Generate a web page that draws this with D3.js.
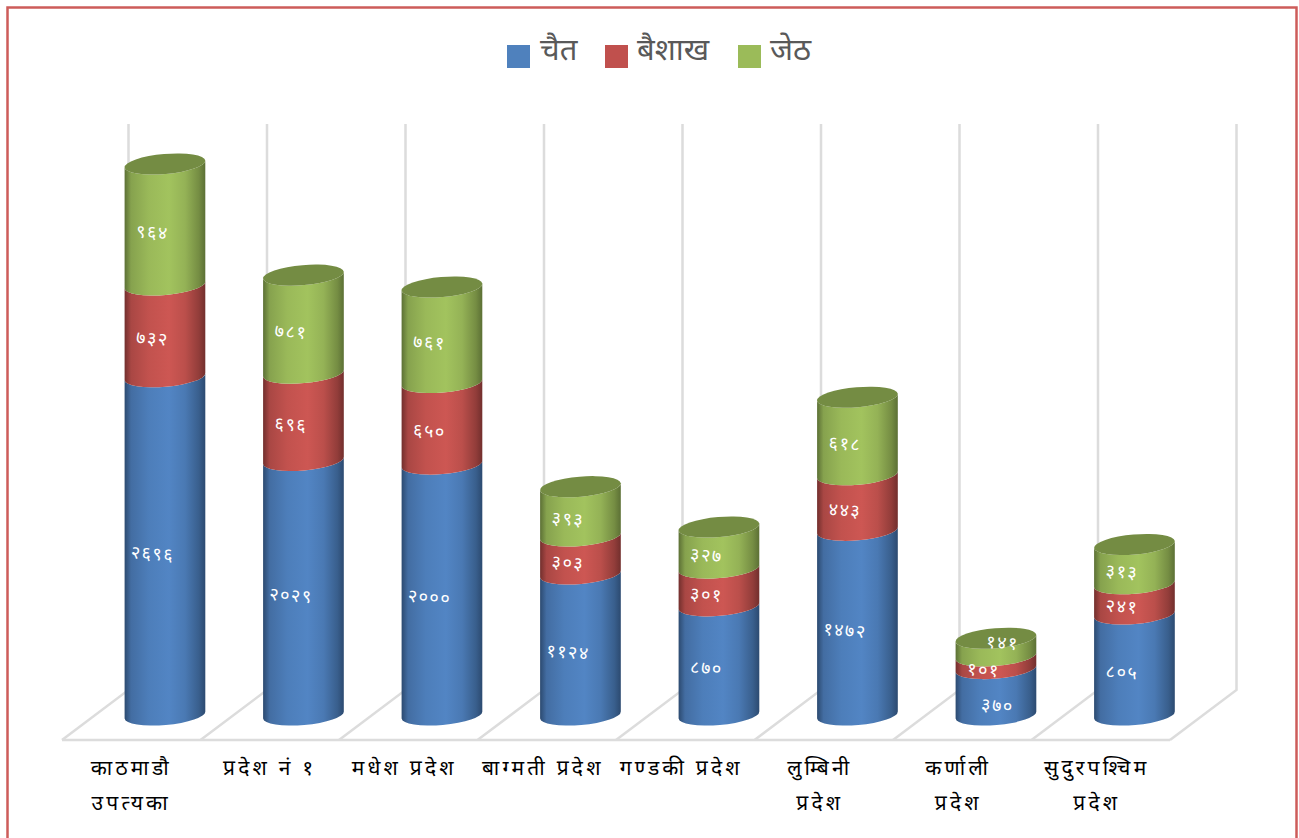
<!DOCTYPE html>
<html><head><meta charset="utf-8">
<script src="https://cdn.jsdelivr.net/npm/d3@7"></script>
<style>html,body{margin:0;padding:0;background:#fff;overflow:hidden}svg{display:block}text{font-family:"Noto Sans","Noto Sans CJK SC","DejaVu Sans",sans-serif}</style>
</head><body><div id="chart"></div>
<script>
const categories = [["काठमाडौ","उपत्यका"],["प्रदेश नं १"],["मधेश प्रदेश"],["बाग्मती प्रदेश"],["गण्डकी प्रदेश"],["लुम्बिनी","प्रदेश"],["कर्णाली","प्रदेश"],["सुदुरपश्चिम","प्रदेश"]];
const seriesNames = ["चैत","बैशाख","जेठ"];
const chait = [2696,2029,2000,1124,870,1472,370,805];
const baishakh = [732,696,650,303,301,443,101,241];
const jeth = [964,781,761,393,327,618,141,313];
const seriesValues = [chait,baishakh,jeth];
const legendFill = ["#4f81bd","#c0504d","#9bbb59"];
const mid = ["#5285c4","#cd5753","#a2c35e"];
const edge = ["#2c4a70","#722f2d","#5c7035"];
const cap = ["#3b618e","#903c3a","#748c43"];
const nep = n => String(n).replace(/\d/g,d=>"०१२३४५६७८९"[d]);

const W=1299,H=838;
const svg=d3.select("#chart").append("svg").attr("width",W).attr("height",H);
const defs=svg.append("defs");
mid.forEach((m,i)=>{
  const g=defs.append("linearGradient").attr("id","g"+i);
  [[0,edge[i]],[.08,d3.interpolateRgb(edge[i],m)(.6)],[.3,d3.interpolateRgb(edge[i],m)(.88)],[.55,m],[.75,d3.interpolateRgb(edge[i],m)(.8)],[.92,d3.interpolateRgb(edge[i],m)(.35)],[1,edge[i]]]
   .forEach(s=>g.append("stop").attr("offset",s[0]).attr("stop-color",s[1]));
});
svg.append("rect").attr("x",7.5).attr("y",7.5).attr("width",1289).attr("height",842).attr("fill","#fff").attr("stroke","#cd5c5a").attr("stroke-width",2.5);

const x=d3.scaleBand().domain(d3.range(categories.length)).range([62,1170]);
const dx=66.5, dy=-50;
const y=d3.scaleLinear().domain([0,4392]).range([725,174]);
const grid=svg.append("g").attr("stroke","#dcdcdc").attr("stroke-width",2.5).attr("fill","none");
const edges=d3.range(categories.length+1).map(i=>i<categories.length?x(i):x.range()[1]);
edges.forEach(e=>{
  grid.append("path").attr("d",`M${e},740L${e+dx},${740+dy}L${e+dx},124`);
});
grid.append("line").attr("x1",62).attr("x2",1170).attr("y1",740).attr("y2",740);

const rx=40.5, ry=10, tilt=-4.9;
const rad=tilt*Math.PI/180, ox=rx*Math.cos(rad), oy=rx*Math.sin(rad);
const plot=svg.append("g");
const cx=i=>x(i)+x.bandwidth()/2+33.7;
// small label shifts used where the source moves a label off the default spot
const labelNudge={"6-0":[14,6],"6-2":[19,-12]};
const axisLabelShift=[0,0,-4,-4,-4,-4,-4,-4];
categories.forEach((c,i)=>{
  let cum=0;
  seriesValues.forEach((vals,s)=>{
    const yb=y(cum)-ry, yt=y(cum+vals[i])-ry, X=cx(i);
    plot.append("path").attr("fill",`url(#g${s})`)
     .attr("d",`M${X-ox},${yt-oy}L${X-ox},${yb-oy}A${rx},${ry} ${tilt} 0 0 ${X+ox},${yb+oy}L${X+ox},${yt+oy}A${rx},${ry} ${tilt} 0 1 ${X-ox},${yt-oy}Z`);
    if(s===2) plot.append("ellipse").attr("cx",0).attr("cy",0).attr("rx",rx).attr("ry",ry).attr("fill",cap[s])
      .attr("transform",`translate(${X},${yt}) rotate(${tilt})`);
    cum+=vals[i];
  });
  cum=0;
  seriesValues.forEach((vals,s)=>{
    const n=labelNudge[i+"-"+s]||[0,0];
    const lx=cx(i-0)-12.5+n[0], ly=y(cum+vals[i]/2)-1+n[1];
    plot.append("text").attr("x",lx).attr("y",ly).attr("text-anchor","middle").attr("dominant-baseline","middle")
      .attr("fill","#fff").attr("font-size",18).attr("letter-spacing",1.5).attr("transform",`rotate(4 ${lx} ${ly})`).text(nep(vals[i]));
    cum+=vals[i];
  });
  const t=svg.append("text").attr("text-anchor","middle").attr("fill","#000").attr("font-size",21).attr("letter-spacing",3.2);
  c.forEach((l,k)=>t.append("tspan").attr("x",x(i)+x.bandwidth()/2+axisLabelShift[i]).attr("y",775+k*35).text(l));
});
const leg=[[507,540],[605,637],[738,770]];
seriesNames.forEach((n,i)=>{
  svg.append("rect").attr("x",leg[i][0]).attr("y",45).attr("width",23).attr("height",23).attr("fill",legendFill[i]);
  svg.append("text").attr("x",leg[i][1]).attr("y",60).attr("font-size",31).attr("fill","#595959").text(n);
});
</script></body></html>
